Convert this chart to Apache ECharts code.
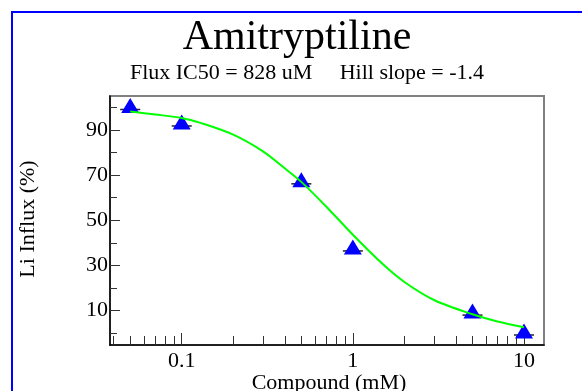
<!DOCTYPE html>
<html>
<head>
<meta charset="utf-8">
<script src="https://cdn.jsdelivr.net/npm/echarts@6/dist/echarts.min.js"></script>
<style>
html,body{margin:0;padding:0;background:#fff;}
#chart{width:582px;height:391px;}
</style>
</head>
<body>
<div id="chart"></div>
<script>
// Measured data points (concentration in mM, Li influx %)
var concentrations = [0.05, 0.1, 0.5, 1, 5, 10];
var influx = [100.8, 93.5, 67.9, 38.2, 9.8, 1.0];

// Fitted curve
var curveX = [0.05, 0.07, 0.1, 0.13, 0.2, 0.3, 0.4, 0.5, 0.7, 1, 1.5, 2, 3, 5, 7, 10];
var curveY = [98.1, 96.8, 95.3, 93.0, 87.9, 80.4, 73.0, 67.0, 56.0, 43.6, 30.5, 22.7, 14.6, 8.4, 5.2, 2.7];

// Axis ticks and labels
var xMajor = [0.1, 1, 10];
var xMinor = [0.04, 0.05, 0.06, 0.07, 0.08, 0.09, 0.2, 0.3, 0.4, 0.5, 0.6, 0.7, 0.8, 0.9, 2, 3, 4, 5, 6, 7, 8, 9];
var yMajor = [10, 30, 50, 70, 90];
var yMinor = [0, 20, 40, 60, 80, 100];

var titleText = 'Amitryptiline';
var subtitleText = 'Flux IC50 = 828 uM     Hill slope = -1.4';
var xName = 'Compound (mM)';
var yName = 'Li Influx (%)';

var FONT = '"Liberation Serif", "Times New Roman", serif';
var xMin = 0.0381, xMax = 13.09;
var yMin = -5.2, yMax = 105;

function pairs(xs, ys) {
  return xs.map(function (x, i) { return [x, ys[i]]; });
}

var chart = echarts.init(document.getElementById('chart'), null, {renderer: 'canvas'});
chart.setOption({
  animation: false,
  backgroundColor: '#ffffff',
  grid: {
    left: 110, top: 96, right: 38, bottom: 46,
    show: true, borderColor: '#808080', borderWidth: 2, backgroundColor: 'transparent'
  },
  xAxis: [
    {
      type: 'log', min: xMin, max: xMax, position: 'bottom',
      axisLine: {show: true, onZero: false, lineStyle: {color: '#000', width: 1.5}},
      axisTick: {show: true, inside: true, length: 12, customValues: xMajor, lineStyle: {color: '#333', width: 1}},
      axisLabel: {show: true, customValues: xMajor, margin: 5, color: '#000', fontFamily: FONT, fontSize: 22,
        formatter: function (v) { return String(v); }},
      splitLine: {show: false}, minorTick: {show: false}
    },
    {
      type: 'log', min: xMin, max: xMax, position: 'bottom', gridIndex: 0,
      axisLine: {show: false, onZero: false},
      axisTick: {show: true, inside: true, length: 9, customValues: xMinor, lineStyle: {color: '#333', width: 1}},
      axisLabel: {show: false},
      splitLine: {show: false}
    }
  ],
  yAxis: [
    {
      type: 'value', min: yMin, max: yMax, position: 'left',
      axisLine: {show: true, onZero: false, lineStyle: {color: '#000', width: 1.5}},
      axisTick: {show: true, inside: true, length: 10, customValues: yMajor, lineStyle: {color: '#333', width: 1}},
      axisLabel: {show: true, customValues: yMajor, margin: 2, color: '#000', fontFamily: FONT, fontSize: 22},
      splitLine: {show: false}
    },
    {
      type: 'value', min: yMin, max: yMax, position: 'left',
      axisLine: {show: false, onZero: false},
      axisTick: {show: true, inside: true, length: 7, customValues: yMinor, lineStyle: {color: '#333', width: 1}},
      axisLabel: {show: false},
      splitLine: {show: false}
    }
  ],
  series: [
    {
      name: 'caps', type: 'scatter', xAxisIndex: 0, yAxisIndex: 0,
      data: pairs(concentrations, influx),
      symbol: 'rect', symbolSize: [20, 1.5], symbolOffset: [0, 4],
      itemStyle: {color: '#222', opacity: 1}, z: 2, silent: true
    },
    {
      name: 'data', type: 'scatter', xAxisIndex: 0, yAxisIndex: 0,
      data: pairs(concentrations, influx),
      symbol: 'triangle', symbolSize: [18, 15],
      itemStyle: {color: '#0000ff', opacity: 1}, z: 3
    },
    {
      name: 'fit', type: 'line', xAxisIndex: 0, yAxisIndex: 0,
      data: pairs(curveX, curveY),
      smooth: 0.3, showSymbol: false, symbol: 'none',
      lineStyle: {color: '#00ff00', width: 2}, z: 4
    }
  ],
  graphic: [
    {type: 'rect', shape: {x: 12, y: 12, width: 700, height: 700},
      style: {fill: 'none', stroke: '#0000ff', lineWidth: 2}, z: 100, silent: true},
    {type: 'text', x: 297, y: 38, style: {text: titleText, font: '42px ' + FONT, fill: '#000',
      textAlign: 'center', textVerticalAlign: 'middle'}},
    {type: 'text', x: 307, y: 73, style: {text: subtitleText, font: '22px ' + FONT, fill: '#000',
      textAlign: 'center', textVerticalAlign: 'middle'}},
    {type: 'text', x: 329, y: 383, style: {text: xName, font: '22px ' + FONT, fill: '#000',
      textAlign: 'center', textVerticalAlign: 'middle'}},
    {type: 'text', x: 28, y: 219, rotation: Math.PI / 2, style: {text: yName, font: '22px ' + FONT, fill: '#000',
      textAlign: 'center', textVerticalAlign: 'middle'}}
  ]
});
</script>
</body>
</html>
